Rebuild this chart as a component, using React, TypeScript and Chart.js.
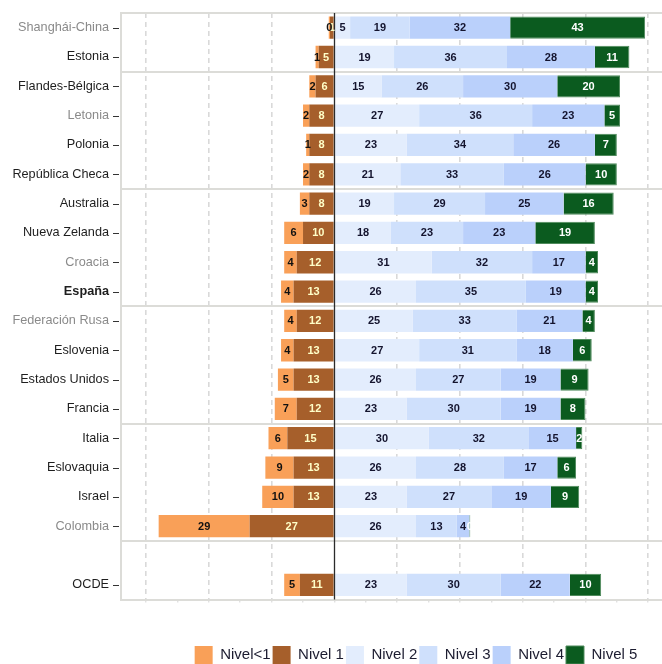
import React, { useEffect, useRef } from "react";
import { Chart, registerables } from "chart.js";

Chart.register(...registerables);

// ---------- data ----------
const countries = [
  "Shanghái-China", "Estonia", "Flandes-Bélgica", "Letonia", "Polonia", "República Checa",
  "Australia", "Nueva Zelanda", "Croacia", "España", "Federación Rusa", "Eslovenia",
  "Estados Unidos", "Francia", "Italia", "Eslovaquia", "Israel", "Colombia", "", "OCDE",
];
const grayCountries = ["Shanghái-China", "Letonia", "Croacia", "Federación Rusa", "Colombia"];
const boldCountries = ["España"];
// first category index of each group of rows (separator lines drawn above them)
const groupStarts = [0, 2, 6, 10, 14, 18];

const nivelMenos1 = [0.4, 1, 2, 2, 1, 2, 3, 6, 4, 4, 4, 4, 5, 7, 6, 9, 10, 29, null, 5];
const nivel1 = [1.4, 5, 6, 8, 8, 8, 8, 10, 12, 13, 12, 13, 13, 12, 15, 13, 13, 27, null, 11];
const nivel2 = [5, 19, 15, 27, 23, 21, 19, 18, 31, 26, 25, 27, 26, 23, 30, 26, 23, 26, null, 23];
const nivel3 = [19, 36, 26, 36, 34, 33, 29, 23, 32, 35, 33, 31, 27, 30, 32, 28, 27, 13, null, 30];
const nivel4 = [32, 28, 30, 23, 26, 26, 25, 23, 17, 19, 21, 18, 19, 19, 15, 17, 19, 4, null, 22];
const nivel5 = [43, 11, 20, 5, 7, 10, 16, 19, 4, 4, 4, 6, 9, 8, 2, 6, 9, 0.3, null, 10];

const seriesNames = ["Nivel<1", "Nivel 1", "Nivel 2", "Nivel 3", "Nivel 4", "Nivel 5"];
const xMin = -68;
const xMax = 120;
const xGridStep = 20;

const FONT = 'Arial, "Liberation Sans", sans-serif';

const neg = (arr: (number | null)[]) => arr.map((v) => (v === null ? null : -v));

const valueLabelsPlugin = {
  id: "valueLabels",
  afterDatasetsDraw(chart: any) {
    const { ctx, chartArea } = chart;
    const xs = chart.scales.x;
    ctx.save();
    // zero line on top of the bars
    const x0 = Math.round(xs.getPixelForValue(0)) + 0.5;
    ctx.strokeStyle = "#2b2b2b";
    ctx.lineWidth = 1.3;
    ctx.beginPath();
    ctx.moveTo(x0, chartArea.top);
    ctx.lineTo(x0, chartArea.bottom);
    ctx.stroke();

    ctx.font = `bold 11px ${FONT}`;
    ctx.textAlign = "center";
    ctx.textBaseline = "middle";
    chart.data.datasets.forEach((ds: any, di: number) => {
      const meta = chart.getDatasetMeta(di);
      meta.data.forEach((bar: any, j: number) => {
        const v = ds.data[j];
        if (v === null || v === undefined) return;
        const p = bar.getProps(["x", "y", "base"], true);
        ctx.fillStyle = ds.labelColor;
        ctx.fillText(String(Math.round(Math.abs(v))), (p.x + p.base) / 2, p.y + 0.5);
      });
    });
    ctx.restore();
  },
  afterDraw(chart: any) {
    const { ctx, chartArea } = chart;
    const ys = chart.scales.y;
    ctx.save();
    ctx.strokeStyle = "#333333";
    ctx.lineWidth = 1;
    countries.forEach((c, i) => {
      if (!c) return;
      const y = Math.round(ys.getPixelForTick(i)) + 0.5;
      ctx.beginPath();
      ctx.moveTo(chartArea.left - 8, y);
      ctx.lineTo(chartArea.left - 2, y);
      ctx.stroke();
    });
    ctx.restore();
  },
};

export default function App() {
  const ref = useRef<HTMLCanvasElement | null>(null);

  useEffect(() => {
    if (!ref.current) return;
    const legendRank = [1, 0, 2, 3, 4, 5];
    const chart = new Chart(ref.current, {
      type: "bar",
      data: {
        labels: countries,
        datasets: [
          { label: seriesNames[1], data: neg(nivel1), backgroundColor: "#A65F2B", borderWidth: 0, labelColor: "#FFFFC8" } as any,
          { label: seriesNames[0], data: neg(nivelMenos1), backgroundColor: "#F9A058", borderWidth: 0, labelColor: "#111111" } as any,
          { label: seriesNames[2], data: nivel2, backgroundColor: "#E3EDFD", borderWidth: 0, labelColor: "#14142e" } as any,
          { label: seriesNames[3], data: nivel3, backgroundColor: "#CFE0FC", borderWidth: 0, labelColor: "#14142e" } as any,
          { label: seriesNames[4], data: nivel4, backgroundColor: "#BAD0FB", borderWidth: 0, labelColor: "#14142e" } as any,
          { label: seriesNames[5], data: nivel5, backgroundColor: "#0B5B1F", borderColor: "#4f8a5c", borderWidth: 1, labelColor: "#ffffff" } as any,
        ],
      },
      options: {
        indexAxis: "y",
        responsive: false,
        animation: false,
        devicePixelRatio: 1,
        layout: { padding: { top: 13, left: 0, right: 0, bottom: 0 } },
        datasets: { bar: { categoryPercentage: 1, barPercentage: 0.76 } },
        scales: {
          x: {
            type: "linear",
            stacked: true,
            min: xMin,
            max: xMax,
            ticks: { display: false, stepSize: xGridStep / 2, includeBounds: false },
            grid: {
              color: (c: any) =>
                c.tick && c.tick.value !== 0 && c.tick.value % xGridStep === 0 ? "#d9d9d9" : "rgba(0,0,0,0)",
              lineWidth: 1.6,
              drawTicks: true,
              tickLength: 3,
              tickColor: "#d4d4d4",
              tickWidth: 1,
            },
            border: { display: false, dash: [5, 4] },
            afterFit: (s: any) => {
              s.height = 44.5;
            },
          },
          y: {
            type: "category",
            stacked: true,
            offset: true,
            grid: {
              offset: true,
              drawTicks: false,
              lineWidth: 2,
              color: (c: any) =>
                c.index === undefined || groupStarts.includes(c.index) ? "#dcdcd8" : "rgba(0,0,0,0)",
            },
            border: { display: true, color: "#dcdcd8", width: 2 },
            ticks: {
              autoSkip: false,
              padding: 12,
              color: (c: any) => (grayCountries.includes(countries[c.index]) ? "#8a8a8a" : "#1e1e1e"),
              font: (c: any) => ({
                family: FONT,
                size: 12.7,
                weight: boldCountries.includes(countries[c.index]) ? "bold" : "normal",
              }),
            },
            afterFit: (s: any) => {
              s.width = 121;
              s.paddingTop = 0;
              s.paddingBottom = 0;
            },
          },
        },
        plugins: {
          tooltip: { enabled: false },
          legend: {
            position: "bottom",
            fullSize: false,
            labels: {
              boxWidth: 18,
              boxHeight: 18,
              padding: 2,
              color: "#1c1c30",
              font: { family: FONT, size: 15 },
              sort: (a: any, b: any) => legendRank[a.datasetIndex] - legendRank[b.datasetIndex],
            },
          },
        },
      } as any,
      plugins: [valueLabelsPlugin],
    });
    return () => chart.destroy();
  }, []);

  return (
    <div style={{ position: "fixed", left: 0, top: 0, width: 711, height: 674 }}>
      <canvas ref={ref} width={711} height={674} style={{ display: "block", width: 711, height: 674 }} />
    </div>
  );
}
